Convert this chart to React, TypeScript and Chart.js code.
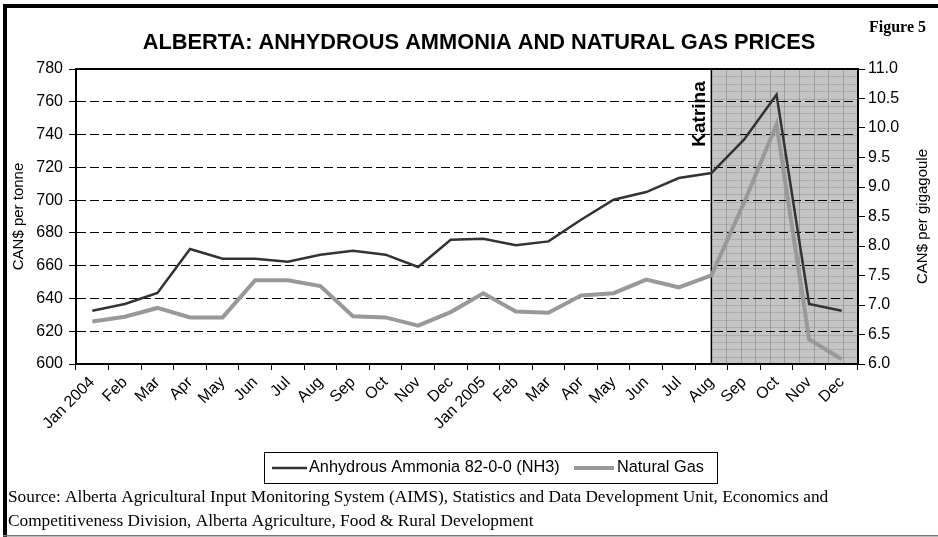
import React, { useEffect, useRef } from 'react';
import { Chart, registerables } from 'chart.js';
Chart.register(...registerables);

const months = ['Jan 2004', 'Feb', 'Mar', 'Apr', 'May', 'Jun', 'Jul', 'Aug', 'Sep', 'Oct', 'Nov', 'Dec',
  'Jan 2005', 'Feb', 'Mar', 'Apr', 'May', 'Jun', 'Jul', 'Aug', 'Sep', 'Oct', 'Nov', 'Dec'];
const ammonia = [632.5, 636.6, 643.3, 670.2, 664.2, 664.2, 662.4, 666.7, 669.1, 666.7, 659.2, 675.8,
  676.4, 672.4, 674.8, 688.0, 700.2, 704.9, 713.5, 716.5, 736.9, 764.3, 636.6, 632.5];
const naturalGas = [6.72, 6.80, 6.95, 6.79, 6.79, 7.42, 7.42, 7.32, 6.81, 6.79, 6.65, 6.88,
  7.20, 6.89, 6.87, 7.16, 7.20, 7.43, 7.30, 7.50, 8.73, 10.06, 6.42, 6.08];
const katrinaStartIndex = 19;
const leftTicks = { min: 600, max: 780, step: 20 };
const rightTicks = { min: 6, max: 11, step: 0.5 };
const seriesNames = ['Anhydrous Ammonia 82-0-0 (NH3)', 'Natural Gas'];
const titleText = 'ALBERTA: ANHYDROUS AMMONIA AND NATURAL GAS PRICES';
const rightAxisTitle = 'CAN$ per gigagoule';
const sourceLines = [
  'Source: Alberta Agricultural Input Monitoring System (AIMS), Statistics and Data Development Unit, Economics and',
  'Competitiveness Division, Alberta Agriculture, Food & Rural Development',
];

const SANS = 'Arial, "Liberation Sans", sans-serif';
const SERIF = '"Times New Roman", "Liberation Serif", serif';
const DARK = '#333333';
const GRAY = '#999999';

const decor = {
  id: 'decor',
  beforeDraw(chart: any) {
    const { ctx, chartArea: a, scales } = chart;
    ctx.save();
    ctx.fillStyle = '#ffffff';
    ctx.fillRect(0, 0, chart.width, chart.height);
    const x0 = scales.x.getPixelForValue(katrinaStartIndex);
    ctx.fillStyle = '#c4c4c4';
    ctx.fillRect(x0, a.top, a.right - x0, a.bottom - a.top);
    ctx.lineWidth = 1;
    ctx.strokeStyle = 'rgba(110,110,110,0.45)';
    for (let x = x0 + 14.6; x < a.right - 1; x += 14.6) {
      ctx.beginPath();
      ctx.moveTo(Math.round(x) + 0.5, a.top);
      ctx.lineTo(Math.round(x) + 0.5, a.bottom);
      ctx.stroke();
    }
    ctx.strokeStyle = 'rgba(120,120,120,0.3)';
    const hs = (a.bottom - a.top) / 40;
    for (let y = a.top + hs; y < a.bottom - 1; y += hs) {
      ctx.beginPath();
      ctx.moveTo(x0, Math.round(y) + 0.5);
      ctx.lineTo(a.right, Math.round(y) + 0.5);
      ctx.stroke();
    }
    ctx.strokeStyle = '#000';
    ctx.lineWidth = 1.5;
    ctx.strokeRect(x0, a.top, a.right - x0, a.bottom - a.top);
    ctx.restore();
  },
  afterDraw(chart: any) {
    const { ctx, chartArea: a, scales } = chart;
    ctx.save();
    // plot top border
    ctx.strokeStyle = '#000';
    ctx.lineWidth = 2;
    ctx.beginPath();
    ctx.moveTo(a.left, a.top);
    ctx.lineTo(a.right, a.top);
    ctx.stroke();
    // outer frame
    ctx.fillStyle = '#000';
    ctx.fillRect(3, 4, chart.width - 3, 4);
    ctx.fillRect(3, 4, 4, chart.height - 4);
    ctx.fillStyle = '#777';
    ctx.fillRect(3, chart.height - 2, chart.width - 3, 1.5);
    // title
    ctx.fillStyle = '#000';
    ctx.textAlign = 'center';
    ctx.textBaseline = 'alphabetic';
    ctx.font = `bold 21.8px ${SANS}`;
    ctx.fillText(titleText, 479, 49);
    ctx.textAlign = 'right';
    ctx.font = `bold 16px ${SERIF}`;
    ctx.fillText('Figure 5', 926, 32);
    // right axis title (reads bottom to top)
    ctx.save();
    ctx.translate(923, (a.top + a.bottom) / 2);
    ctx.rotate(-Math.PI / 2);
    ctx.textAlign = 'center';
    ctx.textBaseline = 'middle';
    ctx.font = `15px ${SANS}`;
    ctx.fillText(rightAxisTitle, 0, 0);
    ctx.restore();
    // Katrina
    const x0 = scales.x.getPixelForValue(katrinaStartIndex);
    ctx.save();
    ctx.translate(x0 - 6, a.top + 45);
    ctx.rotate(-Math.PI / 2);
    ctx.textAlign = 'center';
    ctx.textBaseline = 'alphabetic';
    ctx.font = `bold 19px ${SANS}`;
    ctx.fillText('Katrina', 0, 0);
    ctx.restore();
    // legend
    ctx.lineWidth = 1;
    ctx.strokeStyle = '#000';
    ctx.strokeRect(264.5, 452.5, 453, 31);
    ctx.lineWidth = 2.5;
    ctx.strokeStyle = DARK;
    ctx.beginPath();
    ctx.moveTo(272, 468);
    ctx.lineTo(307, 468);
    ctx.stroke();
    ctx.lineWidth = 4;
    ctx.strokeStyle = GRAY;
    ctx.beginPath();
    ctx.moveTo(574, 468);
    ctx.lineTo(614, 468);
    ctx.stroke();
    ctx.fillStyle = '#000';
    ctx.textAlign = 'left';
    ctx.textBaseline = 'middle';
    ctx.font = `16.3px ${SANS}`;
    ctx.fillText(seriesNames[0], 309, 468);
    ctx.fillText(seriesNames[1], 617, 468);
    // source
    ctx.textBaseline = 'alphabetic';
    ctx.font = `17.3px ${SERIF}`;
    ctx.fillText(sourceLines[0], 8, 502);
    ctx.fillText(sourceLines[1], 8, 526);
    ctx.restore();
  },
};

export default function App() {
  const ref = useRef<HTMLCanvasElement>(null);
  useEffect(() => {
    document.body.style.margin = '0';
    const chart = new Chart(ref.current!, {
      type: 'line',
      data: {
        labels: months,
        datasets: [
          { label: seriesNames[0], data: ammonia, yAxisID: 'y', borderColor: DARK, borderWidth: 2.5, pointRadius: 0, tension: 0, order: 1 },
          { label: seriesNames[1], data: naturalGas, yAxisID: 'y1', borderColor: GRAY, borderWidth: 4, pointRadius: 0, tension: 0, order: 2 },
        ],
      },
      options: {
        responsive: false,
        animation: false,
        devicePixelRatio: 1,
        layout: { padding: { top: 69, left: 0, right: 0, bottom: 0 } },
        plugins: { legend: { display: false }, title: { display: false }, tooltip: { enabled: false } },
        scales: {
          x: {
            offset: true,
            grid: { offset: true, drawOnChartArea: false, drawTicks: true, tickLength: 6, tickColor: '#000', tickWidth: 1 },
            border: { display: true, color: '#000', width: 2 },
            ticks: { color: '#000', font: { family: SANS, size: 16 }, minRotation: 45, maxRotation: 45, autoSkip: false, padding: 3 },
            afterFit: (s: any) => { s.height = 173; },
          },
          y: {
            position: 'left',
            min: leftTicks.min,
            max: leftTicks.max,
            ticks: { stepSize: leftTicks.step, color: '#000', font: { family: SANS, size: 16 }, padding: 6 },
            grid: { color: '#000', lineWidth: 1, tickLength: 7, tickColor: '#000', tickWidth: 1, tickBorderDash: [] },
            border: { display: true, color: '#000', width: 2, dash: [9, 4] },
            title: { display: true, text: 'CAN$ per tonne', color: '#000', font: { family: SANS, size: 15 }, padding: { top: 10, bottom: 0 } },
            afterFit: (s: any) => { s.width = 76; },
          },
          y1: {
            position: 'right',
            min: rightTicks.min,
            max: rightTicks.max,
            ticks: { stepSize: rightTicks.step, color: '#000', font: { family: SANS, size: 16 }, padding: 3, callback: (v: any) => Number(v).toFixed(1) },
            grid: { drawOnChartArea: false, tickLength: 7, tickColor: '#000', tickWidth: 1 },
            border: { display: true, color: '#000', width: 2 },
            afterFit: (s: any) => { s.width = 80; },
          },
        },
      },
      plugins: [decor],
    });
    return () => chart.destroy();
  }, []);
  return (
    <div style={{ width: 938, height: 537 }}>
      <canvas ref={ref} width={938} height={537} style={{ width: 938, height: 537, display: 'block' }} />
    </div>
  );
}
